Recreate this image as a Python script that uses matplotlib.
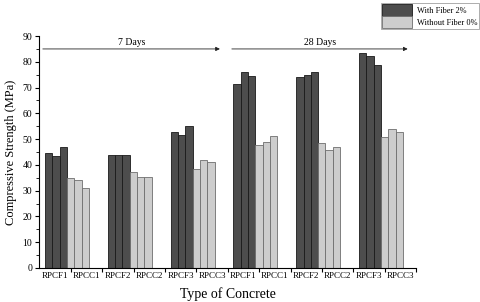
"""
Compressive strength of RPC with and without fiber, 7 and 28 days
"""

import matplotlib.pyplot as plt
import numpy as np

plt.rcParams.update({
    'font.family': 'Liberation Serif',
    'font.size': 7,
})

# tick labels along the category axis
categories = ['RPCF1', 'RPCC1', 'RPCF2', 'RPCC2', 'RPCF3', 'RPCC3',
              'RPCF1', 'RPCC1', 'RPCF2', 'RPCC2', 'RPCF3', 'RPCC3']

# three specimens per mix, 7 days then 28 days
with_fiber = [
    [44.8, 43.4, 47.0],
    [43.8, 44.0, 44.0],
    [52.7, 51.8, 55.0],
    [71.3, 75.9, 74.6],
    [74.2, 74.8, 76.1],
    [83.4, 82.1, 78.6],
]
without_fiber = [
    [35.0, 34.1, 31.1],
    [37.2, 35.3, 35.3],
    [38.5, 41.8, 41.1],
    [47.7, 48.9, 51.2],
    [48.5, 45.8, 46.9],
    [50.9, 54.0, 52.9],
]

dark = '#4d4d4d'
light = '#cdcdcd'

fig = plt.figure(figsize=(4.8, 3.02), dpi=100)
ax = fig.add_axes([0.082, 0.1126, 0.785, 0.768])

w = 0.233
start = 0.18
for g in range(6):
    x0 = 2 * g + start
    xd = x0 + w * np.arange(3)
    xl = x0 + w * (3 + np.arange(3))
    ax.bar(xd, with_fiber[g], width=w, align='edge', color=dark,
           edgecolor='#1a1a1a', linewidth=0.6,
           label='With Fiber 2%' if g == 0 else None)
    ax.bar(xl, without_fiber[g], width=w, align='edge', color=light,
           edgecolor='#6e6e6e', linewidth=0.6,
           label='Without Fiber 0%' if g == 0 else None)

# period arrows
arrow_y = 85
for (xa, xb, txt) in [(0.11, 5.75, '7 Days'), (6.13, 11.73, '28 Days')]:
    ax.annotate('', xy=(xb, arrow_y), xytext=(xa, arrow_y),
                arrowprops=dict(arrowstyle='-|>', color='#222222', lw=0.6,
                                mutation_scale=6, shrinkA=0, shrinkB=0))
    ax.text((xa + xb) / 2, arrow_y + 0.6, txt, ha='center', va='bottom', fontsize=7)

ax.set_xlim(0, 12)
ax.set_ylim(0, 90)
ax.spines['top'].set_visible(False)
ax.spines['right'].set_visible(False)

ax.set_yticks(np.arange(0, 91, 10))
ax.set_yticks(np.arange(5, 90, 10), minor=True)
ax.tick_params(axis='y', which='major', length=3, width=0.8, labelsize=7, pad=2)
ax.tick_params(axis='y', which='minor', length=2, width=0.6)

ax.set_xticks(np.arange(12) + 0.5, categories)
ax.set_xticks(np.arange(1, 13), minor=True)
ax.tick_params(axis='x', which='major', length=0, labelsize=6.5, pad=3)
ax.tick_params(axis='x', which='minor', length=3, width=0.8)

ax.set_ylabel('Compressive Strength (MPa)', fontsize=9, labelpad=4)
ax.set_xlabel('Type of Concrete', fontsize=10, labelpad=5)

leg = ax.legend(loc='upper left', bbox_to_anchor=(0.906, 1.142), frameon=True,
                fancybox=False, edgecolor='#888888', fontsize=6,
                handlelength=3.6, handleheight=1.7, handletextpad=0.6,
                labelspacing=0.1, borderpad=0.15, borderaxespad=0)
leg.get_frame().set_linewidth(0.6)

fig.savefig('out.png', dpi=100)
